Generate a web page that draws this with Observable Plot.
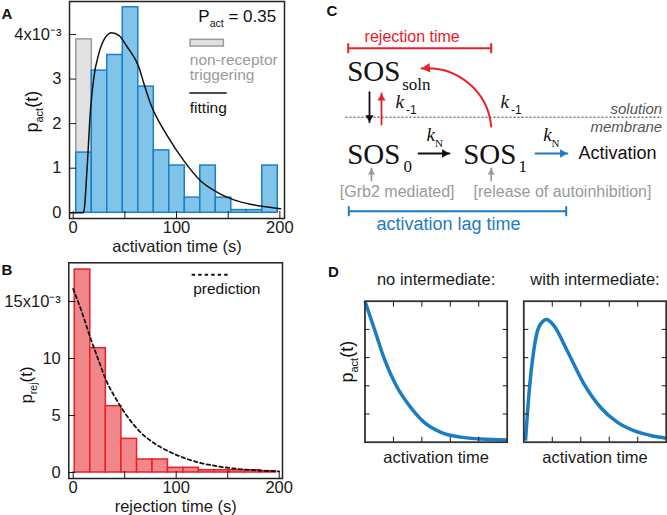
<!DOCTYPE html>
<html><head><meta charset="utf-8">
<script src="https://cdn.jsdelivr.net/npm/d3@7"></script>
<script src="https://cdn.jsdelivr.net/npm/@observablehq/plot@0.6"></script>
<style>
body{margin:0;background:#fff;}
#fig{position:relative;width:667px;height:515px;overflow:hidden;background:#fff;}
#fig svg{position:absolute;left:0;top:0;}
</style></head><body><div id="fig"></div><script>
// ---------------- DATA ----------------
// Panel A: activation time histogram (density x1e-3), 15 s bins
const actBinEdges = [3,18,33,48,63,78,93,108,123,138,153,168,183,198];
const actDensity = [1.35,3.19,3.54,4.61,2.83,1.40,1.06,0.34,1.06,0.34,0.06,0.06,1.06];
const nonReceptorDensity = [3.89,0.05,0,0,0,0,0,0,0,0,0,0,0];
const fitTime = [-3.5,9.5,10.5,13.5,16.7,20,24.8,31.3,37.1,44.2,52.3,63.5,68.4,74.8,91,107,123.2,139.4,155.5,171.6,187.8,200.7];
const fitDensity = [0,0,0.05,1.02,2.30,3.04,3.57,3.94,4.04,3.98,3.72,3.27,2.9,2.45,1.73,1.17,0.72,0.46,0.29,0.19,0.13,0.09];
const actXTicks = [0,50,100,150,200];
const actYTicks = [0,1,2,3,4];
const pActText = "0.35";
// Panel B: rejection time histogram (density x1e-3)
const rejBinEdges = [1.5,16.6,31.7,46.8,62,77,92,107,122,137,152,167,182,197];
const rejDensity = [17.8,10.9,5.82,2.95,1.14,1.14,0.41,0.41,0.2,0.2,0.2,0.2,0.12];
const predTime = [0,8.7,16.7,24.8,31.9,39.3,47.4,63.5,79.7,94,107,123,140,156,175,200];
const predDensity = [16.1,14.0,11.8,9.8,8.1,6.8,5.6,3.7,2.5,1.8,1.3,0.85,0.55,0.35,0.2,0.1];
const rejXTicks = [0,50,100,150,200];
const rejYTicks = [0,5,10,15];
// Panel D: schematic distributions (arbitrary units)
const noIntTime = [0,0.35,0.70,1.1,1.51,2.07,2.67,3.37,4.07,5.0];
const noIntP = [5.0,3.95,2.9,2.0,1.36,0.71,0.35,0.18,0.11,0.08];
const withIntTime = [0.06,0.18,0.35,0.53,0.80,1.05,1.52,2.11,2.69,3.28,3.86,4.45,4.94,5.0];
const withIntP = [0.06,1.7,3.25,4.08,4.35,4.14,3.25,2.07,1.24,0.71,0.41,0.24,0.15,0.14];
const dTicks = [1,2,3,4];

// ---------------- LAYOUT / STYLE ----------------
const W = 667, H = 515;
const SANS = "'Liberation Sans', Arial, Helvetica, sans-serif";
const SERIF = "'Liberation Serif', 'Times New Roman', serif";
const RED = "#e8202a", BLUE = "#1f7ac1", GRAY = "#9a9a9a";
const legendA = {sw:{x1:113.6,x2:145.8,y1:3.73,y2:3.88}, line:{x1:112.9,x2:149.1,y:2.69}};
const legendB = {line:{x1:115.5,x2:151,y:17.34}};

function rich(parts, o) {
  return () => {
    const t = d3.create("svg:text")
      .attr("x", o.x).attr("y", o.y)
      .attr("text-anchor", o.anchor || "start")
      .attr("font-family", o.family || SANS)
      .attr("font-size", o.size || 16)
      .attr("font-weight", o.weight || null)
      .attr("font-style", o.style || null)
      .attr("fill", o.fill || "#111");
    if (o.rotate) t.attr("transform", `rotate(${o.rotate},${o.x},${o.y})`);
    let shift = 0;
    for (const p of parts) {
      const [str, kind] = Array.isArray(p) ? p : [p, null];
      const target = kind === "sub" ? o.subShift : 0;
      const span = t.append("tspan").text(str);
      if (target - shift) span.attr("dy", target - shift);
      if (kind) span.attr("font-size", o.subSize);
      shift = target;
    }
    return t.node();
  };
}

const common = {
  width: W, height: H,
  style: {background: "transparent", fontFamily: SANS, fontSize: "16.5px", color: "#1a1a1a", overflow: "visible"}
};

const bars = (edges, vals) => vals.map((v, i) => ({x1: edges[i], x2: edges[i + 1], v}));
const pts = (ts, vs) => ts.map((t, i) => ({t, v: vs[i]}));

// ---------------- PANEL A ----------------
const plotA = Plot.plot({
  ...common,
  marginLeft: 69, marginRight: W - 284, marginTop: 1, marginBottom: H - 218,
  x: {domain: [-3.58, 204.5], label: null},
  y: {domain: [-0.128, 4.74], label: null},
  marks: [
    Plot.rectY(bars(actBinEdges, nonReceptorDensity).filter(d => d.v > 0), {x1: "x1", x2: "x2", y: "v", fill: "#e1e1e1", stroke: "#9b9b9b", strokeWidth: 1.5}),
    Plot.rectY(bars(actBinEdges, actDensity), {x1: "x1", x2: "x2", y: "v", fill: "#80c5e9", stroke: "#1c7fc6", strokeWidth: 1.5}),
    Plot.line(pts(fitTime, fitDensity), {x: "t", y: "v", curve: "monotone-x", stroke: "#111", strokeWidth: 1.5}),
    Plot.frame({stroke: "#222", strokeWidth: 1.5}),
    Plot.axisX({ticks: actXTicks, tickSize: -7, tickPadding: 10, label: null, tickFormat: d => d % 100 === 0 ? String(d) : ""}),
    Plot.axisY({ticks: actYTicks, tickSize: -7, tickPadding: 15, label: null, tickFormat: d => d === 4 ? "4x10\u207B\u00B3" : String(d)}),
    Plot.text(["activation time (s)"], {frameAnchor: "bottom", dy: 28, lineAnchor: "middle", fontSize: 16.5}),
    Plot.rect([legendA.sw], {x1: "x1", x2: "x2", y1: "y1", y2: "y2", fill: "#e1e1e1", stroke: "#9b9b9b", strokeWidth: 1.5}),
    Plot.ruleY([legendA.line], {y: "y", x1: "x1", x2: "x2", stroke: "#111", strokeWidth: 1.5}),
    Plot.text(["non-receptor"], {frameAnchor: "top-left", dx: 120.3, dy: 58.3, textAnchor: "start", lineAnchor: "middle", fill: GRAY, fontSize: 15.5}),
    Plot.text(["triggering"], {frameAnchor: "top-left", dx: 120.3, dy: 74, textAnchor: "start", lineAnchor: "middle", fill: GRAY, fontSize: 15.5}),
    Plot.text(["fitting"], {frameAnchor: "top-left", dx: 120.3, dy: 106.3, textAnchor: "start", lineAnchor: "middle", fill: "#111", fontSize: 15.5}),
    rich(["P", ["act", "sub"], " = " + pActText], {x: 198.3, y: 21.7, size: 17, subSize: 10.5, subShift: 5}),
    rich(["p", ["act", "sub"], "(t)"], {x: 38, y: 111.7, anchor: "middle", rotate: -90, size: 18, subSize: 11, subShift: 5}),
    rich(["A"], {x: 1.5, y: 18.5, size: 15, weight: "bold"})
  ]
});

// ---------------- PANEL B ----------------
const plotB = Plot.plot({
  ...common,
  marginLeft: 68.3, marginRight: W - 282, marginTop: 262.3, marginBottom: H - 478,
  x: {domain: [-4.27, 203.2], label: null},
  y: {domain: [-0.526, 18.39], label: null},
  marks: [
    Plot.rectY(bars(rejBinEdges, rejDensity), {x1: "x1", x2: "x2", y: "v", fill: "#f2878b", stroke: RED, strokeWidth: 1.5}),
    Plot.line(pts(predTime, predDensity), {x: "t", y: "v", curve: "monotone-x", stroke: "#111", strokeWidth: 1.8, strokeDasharray: "3.5,3"}),
    Plot.frame({stroke: "#222", strokeWidth: 1.5}),
    Plot.axisX({ticks: rejXTicks, tickSize: -7, tickPadding: 10, label: null, tickFormat: d => d % 100 === 0 ? String(d) : ""}),
    Plot.axisY({ticks: rejYTicks, tickSize: -7, tickPadding: 15, label: null, tickFormat: d => d === 15 ? "15x10\u207B\u00B3" : String(d)}),
    Plot.text(["rejection time (s)"], {frameAnchor: "bottom", dy: 28.5, lineAnchor: "middle", fontSize: 16.5}),
    Plot.ruleY([legendB.line], {y: "y", x1: "x1", x2: "x2", stroke: "#111", strokeWidth: 1.8, strokeDasharray: "3.5,3"}),
    Plot.text(["prediction"], {frameAnchor: "top-left", dx: 124.4, dy: 26, textAnchor: "start", lineAnchor: "middle", fill: "#111", fontSize: 15.5}),
    rich(["p", ["rej", "sub"], "(t)"], {x: 32, y: 385, anchor: "middle", rotate: -90, size: 17, subSize: 10.5, subShift: 5}),
    rich(["B"], {x: 1.5, y: 275, size: 15, weight: "bold"})
  ]
});

// ---------------- PANEL C (diagram, page-pixel coordinates) ----------------
const cBrackets = [
  {x1: 347.7, x2: 490.7, y: 47.7, c: RED},
  {x1: 348.3, x2: 565.7, y: 210.7, c: BLUE}
];
const cArrows = [
  {x1: 369, y1: 91.7, x2: 369, y2: 121.7, c: "#111", r: 3},
  {x1: 381, y1: 124, x2: 381, y2: 93, c: RED, r: 3},
  {x1: 418, y1: 153, x2: 449, y2: 153, c: "#111", r: 3.2},
  {x1: 535, y1: 153, x2: 567, y2: 153, c: BLUE, r: 3.2},
  {x1: 371, y1: 180, x2: 371, y2: 168, c: GRAY, r: 2.6},
  {x1: 490.7, y1: 180, x2: 490.7, y2: 168, c: GRAY, r: 2.6}
];
const cCurved = [{x1: 490.7, y1: 126, x2: 421, y2: 68, c: RED, bend: -45, r: 3.6}];
const cMembrane = [{x1: 345, x2: 661.7, y: 116.7}];
const cSOS = [{x: 346.7, y: 80}, {x: 346.7, y: 163.3}, {x: 462.7, y: 163.3}];
const cSOSsub = [{t: "soln", x: 401.7, y: 89.3}, {t: "0", x: 403, y: 171.7}, {t: "1", x: 518, y: 171.7}];
const cK = [{x: 395, y: 107.3}, {x: 500, y: 107.3}, {x: 426, y: 140}, {x: 542.7, y: 140}];
const cKsub1 = [{t: "-1", x: 405.5, y: 113.5}, {t: "-1", x: 510.5, y: 113.5}];
const cKsubN = [{t: "N", x: 434.5, y: 146.7}, {t: "N", x: 551, y: 146.7}];
const cMidLabels = [
  {t: "rejection time", x: 411.7, y: 41, c: RED, s: 16},
  {t: "[Grb2 mediated]", x: 396.7, y: 196.7, c: GRAY, s: 16},
  {t: "[release of autoinhibition]", x: 562, y: 196.7, c: GRAY, s: 16},
  {t: "activation lag time", x: 448, y: 229, c: BLUE, s: 18}
];
const cEndLabels = [{t: "solution", x: 661.7, y: 113}, {t: "membrane", x: 661.7, y: 131.5}];

// filled arrow heads (triangle symbols) placed at each arrow tip, pointing along the arrow
function tipHeads(arrows) {
  return arrows.map(a => {
    const chord = Math.atan2(a.y2 - a.y1, a.x2 - a.x1);
    const ang = a.bend ? chord + a.bend * Math.PI / 180 : chord;
    const tip = 2 * Math.sqrt(Math.PI * a.r * a.r / (Math.sqrt(3) * 3));
    return {x: a.x2 - Math.cos(ang) * tip, y: a.y2 - Math.sin(ang) * tip, rot: ang * 180 / Math.PI + 90, r: a.r, c: a.c};
  });
}

const plotC = Plot.plot({
  ...common,
  margin: 0,
  x: {domain: [0, W], range: [0, W], axis: null},
  y: {domain: [0, H], range: [0, H], axis: null},
  color: {type: "identity"},
  r: {type: "identity"},
  marks: [
    Plot.link(cMembrane, {x1: "x1", x2: "x2", y1: "y", y2: "y", stroke: "#333", strokeWidth: 1, strokeDasharray: "2,2"}),
    Plot.link(cBrackets, {x1: "x1", x2: "x2", y1: "y", y2: "y", stroke: "c", strokeWidth: 2}),
    Plot.link(cBrackets.flatMap(d => [{x: d.x1, y: d.y, c: d.c}, {x: d.x2, y: d.y, c: d.c}]), {x1: "x", x2: "x", y1: d => d.y - 5, y2: d => d.y + 5, stroke: "c", strokeWidth: 2}),
    Plot.arrow(cArrows, {x1: "x1", y1: "y1", x2: "x2", y2: "y2", stroke: "c", strokeWidth: 1.8, headLength: 0}),
    Plot.arrow(cCurved, {x1: "x1", y1: "y1", x2: "x2", y2: "y2", stroke: "c", strokeWidth: 2, bend: -45, headLength: 0}),
    Plot.dot(tipHeads([...cArrows, ...cCurved]), {x: "x", y: "y", r: "r", rotate: "rot", symbol: "triangle", fill: "c", stroke: "none"}),
    Plot.text(cSOS, {x: "x", y: "y", text: () => "SOS", fontFamily: SERIF, fontSize: 29, textAnchor: "start", lineAnchor: "bottom", fill: "#111"}),
    Plot.text(cSOSsub, {x: "x", y: "y", text: "t", fontFamily: SERIF, fontSize: 17, textAnchor: "start", lineAnchor: "bottom", fill: "#111"}),
    Plot.text(cK, {x: "x", y: "y", text: () => "k", fontFamily: SERIF, fontStyle: "italic", fontSize: 19, textAnchor: "start", lineAnchor: "bottom", fill: "#111"}),
    Plot.text(cKsub1, {x: "x", y: "y", text: "t", fontFamily: SANS, fontSize: 12, textAnchor: "start", lineAnchor: "bottom", fill: "#111"}),
    Plot.text(cKsubN, {x: "x", y: "y", text: "t", fontFamily: SERIF, fontSize: 11, textAnchor: "start", lineAnchor: "bottom", fill: "#111"}),
    Plot.text(cMidLabels, {x: "x", y: "y", text: "t", fill: "c", fontSize: "s", textAnchor: "middle", lineAnchor: "bottom"}),
    Plot.text([{t: "Activation", x: 578, y: 158.5}], {x: "x", y: "y", text: "t", fill: "#111", fontSize: 18, textAnchor: "start", lineAnchor: "bottom"}),
    Plot.text(cEndLabels, {x: "x", y: "y", text: "t", fill: "#555", fontSize: 15, fontStyle: "italic", textAnchor: "end", lineAnchor: "bottom"}),
    rich(["C"], {x: 326.5, y: 15.5, size: 15, weight: "bold"}),
    rich(["D"], {x: 328, y: 276.7, size: 15, weight: "bold"})
  ]
});

// ---------------- PANEL D ----------------
function dPlot(left, right, times, vals, title, extra) {
  return Plot.plot({
    ...common,
    marginLeft: left, marginRight: W - right, marginTop: 300.7, marginBottom: H - 441.7,
    x: {domain: [0, 5], label: null},
    y: {domain: [0, 5], label: null},
    marks: [
      Plot.line(pts(times, vals), {x: "t", y: "v", curve: "monotone-x", stroke: "#1a7dc4", strokeWidth: 3.5, strokeLinecap: "butt"}),
      Plot.frame({stroke: "#333", strokeWidth: 1.8}),
      Plot.axisX({anchor: "bottom", ticks: dTicks, tickSize: -5, tickFormat: () => "", label: null}),
      Plot.axisX({anchor: "top", ticks: dTicks, tickSize: -5, tickFormat: () => "", label: null}),
      Plot.axisY({anchor: "left", ticks: dTicks, tickSize: -5, tickFormat: () => "", label: null}),
      Plot.axisY({anchor: "right", ticks: dTicks, tickSize: -5, tickFormat: () => "", label: null}),
      Plot.text([title], {frameAnchor: "top", dy: -21.4, lineAnchor: "middle", fontSize: 16.5}),
      Plot.text(["activation time"], {frameAnchor: "bottom", dy: 15.6, lineAnchor: "middle", fontSize: 16.5}),
      ...extra
    ]
  });
}
const plotD1 = dPlot(364.5, 506.7, noIntTime, noIntP, "no intermediate:",
  [rich(["p", ["act", "sub"], "(t)"], {x: 353, y: 361.7, anchor: "middle", rotate: -90, size: 18, subSize: 11, subShift: 5})]);
const plotD2 = dPlot(523.3, 665.7, withIntTime, withIntP, "with intermediate:", []);

const fig = document.getElementById("fig");
for (const p of [plotA, plotB, plotC, plotD1, plotD2]) fig.appendChild(p);
</script></body></html>
